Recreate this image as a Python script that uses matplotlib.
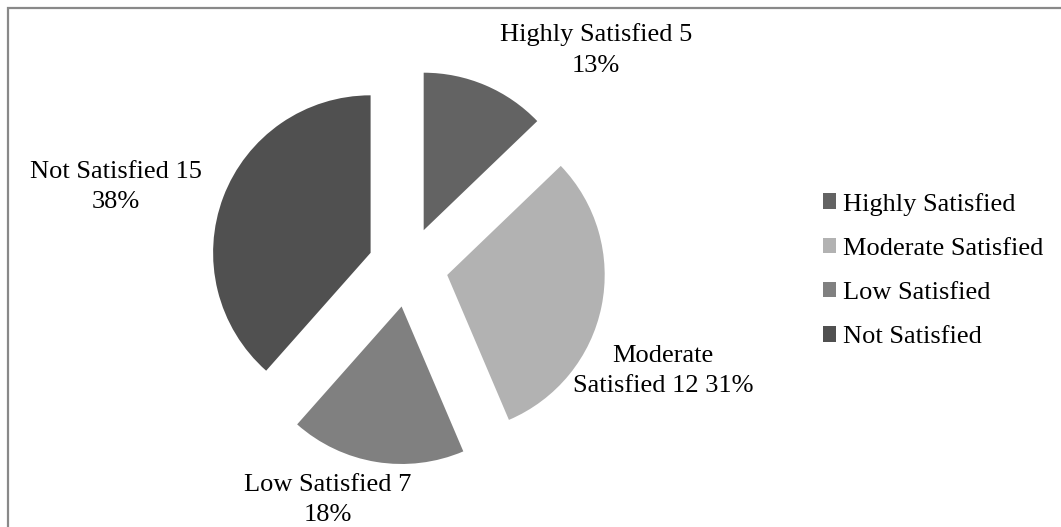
import matplotlib
matplotlib.use("Agg")
import matplotlib.pyplot as plt
from matplotlib.patches import Rectangle

# satisfaction survey counts
categories = ["Highly Satisfied", "Moderate Satisfied", "Low Satisfied", "Not Satisfied"]
counts = [5, 12, 7, 15]
colors = ["#636363", "#b2b2b2", "#808080", "#505050"]
label_text = ["Highly Satisfied 5\n13%", "Moderate\nSatisfied 12 31%",
              "Low Satisfied 7\n18%", "Not Satisfied 15\n38%"]

plt.rcParams["font.family"] = ["Liberation Serif", "DejaVu Serif"]
FS = 19

fig = plt.figure(figsize=(10.61, 5.27), dpi=100)

# outer chart border (runs off the right and bottom edges)
fig.patches.append(Rectangle((7.5 / 1061, -0.1), 1.2, 1.1 - 7.5 / 527,
                             transform=fig.transFigure, fill=False,
                             edgecolor="#898989", linewidth=1.6))

# pie axes: centre at (408, 267) px, radius 157.5 px
R = 157.5
cx, cy = 408, 267
half = 250
ax = fig.add_axes([(cx - half) / 1061, (527 - cy - half) / 527, 2 * half / 1061, 2 * half / 527])

wedges, _ = ax.pie(counts, colors=colors, startangle=90, counterclock=False,
                   explode=[40 / R] * len(counts), radius=1,
                   wedgeprops=dict(linewidth=0))
ax.set_xlim(-half / R, half / R)
ax.set_ylim(-half / R, half / R)
ax.axis("off")

# data labels, positions in pixels of the reference
label_px = [(596, 50), (663, 371), (328, 500), (116, 187)]
for txt, (px, py) in zip(label_text, label_px):
    ax.text((px - cx) / R, (cy - py) / R, txt, ha="center", va="center",
            multialignment="center", fontsize=FS, linespacing=1.48, clip_on=False)

leg = fig.legend(wedges, categories, loc="upper left",
                 bbox_to_anchor=(812 / 1061, 1 - 182 / 527),
                 frameon=False, fontsize=FS, handlelength=0.52, handleheight=0.52,
                 handletextpad=0.25, labelspacing=0.84, borderaxespad=0)

fig.savefig("out.png", dpi=100)
